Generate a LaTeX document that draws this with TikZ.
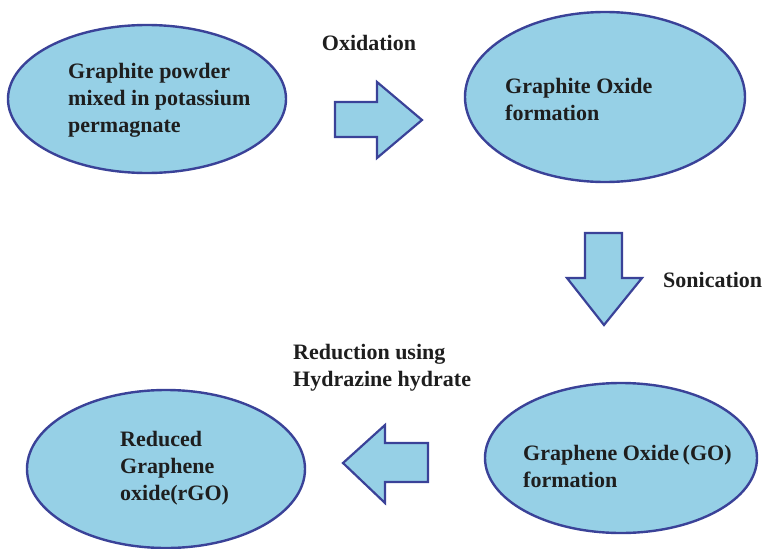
\documentclass[tikz,border=0pt]{standalone}
\usepackage{fontspec}
\setmainfont{Liberation Serif}
\usetikzlibrary{shapes.geometric}

\definecolor{stagefill}{RGB}{150,208,230}
\definecolor{stageline}{RGB}{58,66,152}
\definecolor{textdark}{RGB}{30,30,30}

\begin{document}
\begin{tikzpicture}[x=1pt, y=-1pt,
    stage/.style={ellipse, draw=stageline, fill=stagefill, line width=2.4pt, inner sep=0pt},
    words/.style={font=\fontsize{22}{27}\selectfont\bfseries, text=textdark, align=left, inner sep=0pt},
    blockarrow/.style={draw=stageline, fill=stagefill, line width=2.2pt, line join=miter}
]
\useasboundingbox (0,0) rectangle (766,549);

% Stages (ellipses)
\node[stage, minimum width=278pt, minimum height=148pt] (powder) at (147,99) {};
\node[stage, minimum width=280pt, minimum height=170pt] (oxide) at (605,97) {};
\node[stage, minimum width=272pt, minimum height=150pt] (go) at (621,458) {};
\node[stage, minimum width=278pt, minimum height=158pt] (rgo) at (166,469) {};

% Texts inside the stages
\node[words, anchor=west] (powdertext) at (68,100) {Graphite powder\\mixed in potassium\\permagnate};
\node[words, anchor=west] (oxidetext) at (505,99) {Graphite Oxide\\formation};
\node[words, anchor=west] (gotext) at (523,466) {Graphene Oxide\,(GO)\\formation};
\node[words, anchor=west] (rgotext) at (120,468) {Reduced\\Graphene\\oxide(rGO)};

% Block arrows
\draw[blockarrow] (335,102) -- (377,102) -- (377,82) -- (422,120)
    -- (377,158) -- (377,137) -- (335,137) -- cycle;
\draw[blockarrow] (585,233) -- (622,233) -- (622,278) -- (642,278)
    -- (604,325) -- (567,278) -- (585,278) -- cycle;
\draw[blockarrow] (428,443) -- (385,443) -- (385,425) -- (343,463)
    -- (385,503) -- (385,482) -- (428,482) -- cycle;

% Step labels
\node[words] (oxidation) at (369,43) {Oxidation};
\node[words, anchor=west] (sonication) at (663,280) {Sonication};
\node[words, anchor=west] (reduction) at (293,368) {Reduction using\\Hydrazine hydrate};

\end{tikzpicture}
\end{document}
